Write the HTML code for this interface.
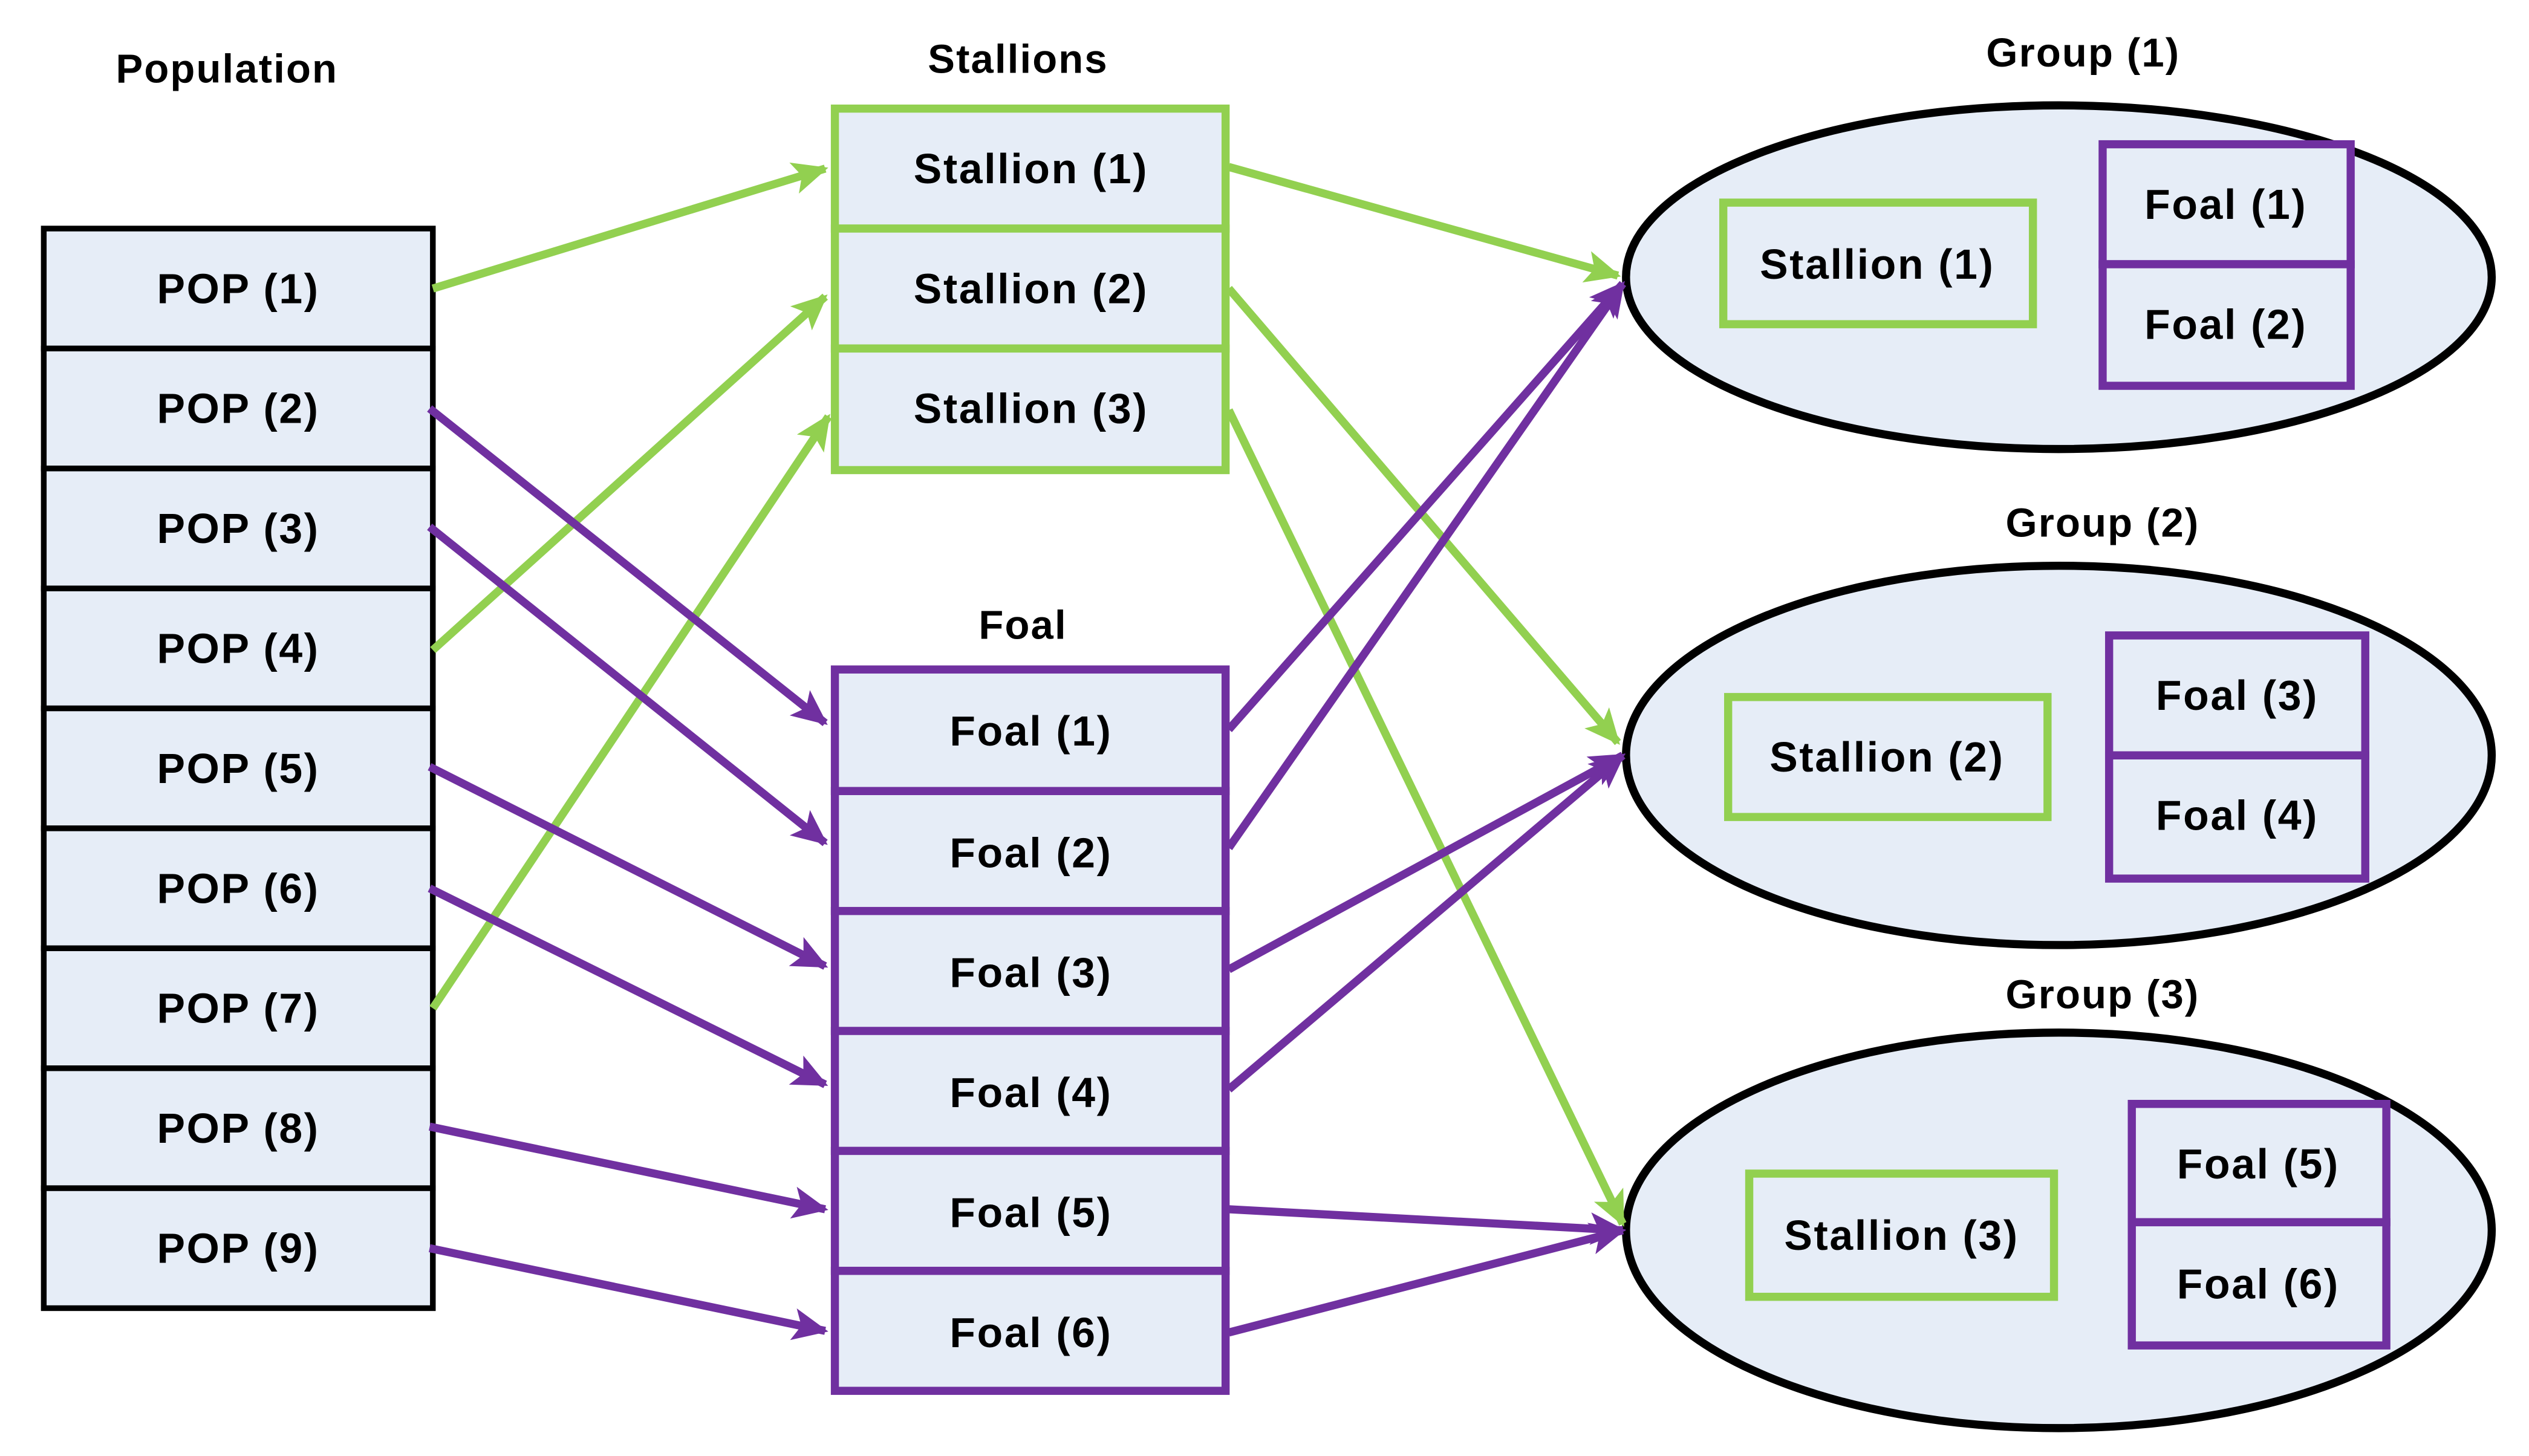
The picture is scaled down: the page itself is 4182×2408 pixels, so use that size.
<!DOCTYPE html>
<html><head><meta charset="utf-8"><style>html,body{margin:0;padding:0;background:#fff}svg{display:block}</style></head><body>
<svg width="4182" height="2408" viewBox="0 0 1560 898.2" preserveAspectRatio="none" xmlns="http://www.w3.org/2000/svg" font-family="Liberation Sans, Arial, sans-serif" font-weight="bold">
<defs>
<marker id="ag" markerWidth="24" markerHeight="24" refX="20" refY="12" orient="auto" markerUnits="userSpaceOnUse"><path d="M0,2 L22,12 L0,22 L5,12 z" fill="#92D050"/></marker>
<marker id="ap" markerWidth="24" markerHeight="24" refX="20" refY="12" orient="auto" markerUnits="userSpaceOnUse"><path d="M0,2 L22,12 L0,22 L5,12 z" fill="#7030A0"/></marker>
</defs>
<rect width="1560" height="898.2" fill="#fff"/>
<g font-size="25" text-anchor="middle" fill="#000" letter-spacing="0.8">
<text x="140" y="51">Population</text>
<text x="628" y="45">Stallions</text>
<text x="631" y="394">Foal</text>
<text x="1285" y="41">Group (1)</text>
<text x="1297" y="331">Group (2)</text>
<text x="1297" y="622">Group (3)</text>
</g>
<g fill="#E6EDF7" stroke="#000" stroke-width="5">
<ellipse cx="1270" cy="171" rx="267" ry="106"/>
<ellipse cx="1270" cy="466" rx="267" ry="117"/>
<ellipse cx="1270" cy="759" rx="267" ry="122"/>
</g>
<g fill="#E6EDF7" stroke="#000" stroke-width="3.5">
<rect x="27" y="141" width="240" height="74"/><rect x="27" y="215" width="240" height="74"/><rect x="27" y="289" width="240" height="74"/>
<rect x="27" y="363" width="240" height="74"/><rect x="27" y="437" width="240" height="74"/><rect x="27" y="511" width="240" height="74"/>
<rect x="27" y="585" width="240" height="74"/><rect x="27" y="659" width="240" height="74"/><rect x="27" y="733" width="240" height="74"/>
</g>
<g font-size="26" text-anchor="middle" letter-spacing="1">
<text x="147" y="187">POP (1)</text><text x="147" y="261">POP (2)</text><text x="147" y="335">POP (3)</text>
<text x="147" y="409">POP (4)</text><text x="147" y="483">POP (5)</text><text x="147" y="557">POP (6)</text>
<text x="147" y="631">POP (7)</text><text x="147" y="705">POP (8)</text><text x="147" y="779">POP (9)</text>
</g>
<g fill="#E6EDF7" stroke="#92D050" stroke-width="5">
<rect x="515" y="67" width="241" height="74"/><rect x="515" y="141" width="241" height="74"/><rect x="515" y="215" width="241" height="75"/>
<rect x="1063" y="125" width="191" height="75"/>
<rect x="1066" y="430" width="197" height="74"/>
<rect x="1079" y="724" width="188" height="76"/>
</g>
<g fill="#E6EDF7" stroke="#7030A0" stroke-width="5">
<rect x="515" y="413" width="241" height="75"/><rect x="515" y="488" width="241" height="74"/><rect x="515" y="562" width="241" height="74"/>
<rect x="515" y="636" width="241" height="74"/><rect x="515" y="710" width="241" height="74"/><rect x="515" y="784" width="241" height="74"/>
<rect x="1297" y="89" width="153" height="74"/><rect x="1297" y="163" width="153" height="75"/>
<rect x="1301" y="392" width="158" height="74"/><rect x="1301" y="466" width="158" height="76"/>
<rect x="1315" y="681" width="157" height="73"/><rect x="1315" y="754" width="157" height="76"/>
</g>
<g font-size="26" text-anchor="middle" letter-spacing="1">
<text x="636" y="113">Stallion (1)</text><text x="636" y="187">Stallion (2)</text><text x="636" y="261">Stallion (3)</text>
<text x="636" y="460">Foal (1)</text><text x="636" y="535">Foal (2)</text><text x="636" y="609">Foal (3)</text>
<text x="636" y="683">Foal (4)</text><text x="636" y="757">Foal (5)</text><text x="636" y="831">Foal (6)</text>
<text x="1158" y="172">Stallion (1)</text><text x="1164" y="476">Stallion (2)</text><text x="1173" y="771">Stallion (3)</text>
<text x="1373" y="135">Foal (1)</text><text x="1373" y="209">Foal (2)</text>
<text x="1380" y="438">Foal (3)</text><text x="1380" y="512">Foal (4)</text>
<text x="1393" y="727">Foal (5)</text><text x="1393" y="801">Foal (6)</text>
</g>
<g stroke="#92D050" stroke-width="5" fill="none" marker-end="url(#ag)">
<line x1="267" y1="178" x2="509" y2="104"/>
<line x1="267" y1="401" x2="509" y2="183"/>
<line x1="267" y1="622" x2="511" y2="257"/>
<line x1="758" y1="103" x2="998" y2="170"/>
<line x1="758" y1="178" x2="998" y2="458"/>
<line x1="758" y1="253" x2="1001" y2="755"/>
</g>
<g stroke="#7030A0" stroke-width="5" fill="none" marker-end="url(#ap)">
<line x1="265" y1="252" x2="509" y2="446"/>
<line x1="265" y1="325" x2="509" y2="520"/>
<line x1="265" y1="473" x2="509" y2="596"/>
<line x1="265" y1="548" x2="509" y2="669"/>
<line x1="265" y1="695" x2="509" y2="746"/>
<line x1="265" y1="770" x2="509" y2="821"/>
<line x1="758" y1="450" x2="1001" y2="175"/>
<line x1="758" y1="523" x2="1001" y2="175"/>
<line x1="758" y1="598" x2="1001" y2="466"/>
<line x1="758" y1="672" x2="1001" y2="466"/>
<line x1="758" y1="746" x2="1001" y2="759"/>
<line x1="758" y1="822" x2="1001" y2="759"/>
</g>
</svg>
</body></html>
